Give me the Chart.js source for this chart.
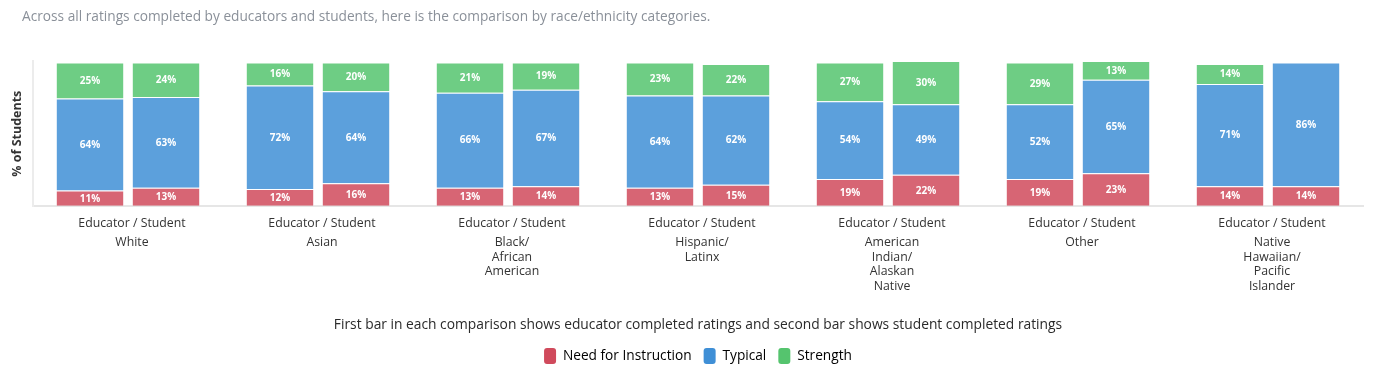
<!DOCTYPE html>
<html>
<head>
<meta charset="utf-8">
<title>Ratings by race/ethnicity</title>
<script src="https://cdn.jsdelivr.net/npm/chart.js@4.4.1/dist/chart.umd.min.js"></script>
<style>
  html, body { margin: 0; padding: 0; background: #fff; }
  #wrap { position: relative; width: 1379px; height: 384px; }
  #intro {
    position: absolute; left: 22px; top: 6px;
    font: 13.7px "Open Sans", sans-serif; color: #8a9099;
  }
  canvas { position: absolute; left: 0; top: 0; }
</style>
</head>
<body>
<div id="wrap">
  <canvas id="ratingsChart" width="1379" height="384"></canvas>
  <div id="intro">Across all ratings completed by educators and students, here is the comparison by race/ethnicity categories.</div>
</div>
<script>
// chart data
const CATEGORIES = [
    ["White"],
    ["Asian"],
    ["Black/", "African", "American"],
    ["Hispanic/", "Latinx"],
    ["American", "Indian/", "Alaskan", "Native"],
    ["Other"],
    ["Native", "Hawaiian/", "Pacific", "Islander"]
];
const PAIR_LABEL = "Educator / Student";

const EDUCATOR_NEED     = [11, 12, 13, 13, 19, 19, 14];
const EDUCATOR_TYPICAL  = [64, 72, 66, 64, 54, 52, 71];
const EDUCATOR_STRENGTH = [25, 16, 21, 23, 27, 29, 14];

const STUDENT_NEED      = [13, 16, 14, 15, 22, 23, 14];
const STUDENT_TYPICAL   = [63, 64, 67, 62, 49, 65, 86];
const STUDENT_STRENGTH  = [24, 20, 19, 22, 30, 13, 0];

const SERIES_NAMES = ["Need for Instruction", "Typical", "Strength"];
const FOOTNOTE = "First bar in each comparison shows educator completed ratings and second bar shows student completed ratings";

// solid colours (legend) and the lighter bar fills
const COLOURS = ["#d04a5c", "#3f8fd6", "#55c46e"];
const FILLS   = ["rgba(208,74,92,0.85)", "rgba(63,143,214,0.85)", "rgba(85,196,110,0.85)"];

const FONT = "'Open Sans', Lato, sans-serif";

function makeSet(i, values, stack) {
    return {
        label: SERIES_NAMES[i],
        data: values,
        stack: stack,
        backgroundColor: FILLS[i],
        borderColor: "rgba(255,255,255,0.35)",
        borderWidth: 1
    };
}

// white % text in the middle of each segment
const segmentLabels = {
    id: "segmentLabels",
    afterDatasetsDraw(chart) {
        const ctx = chart.ctx;
        ctx.save();
        ctx.font = "bold 10px " + FONT;
        ctx.fillStyle = "#fff";
        ctx.textAlign = "center";
        ctx.textBaseline = "middle";
        chart.data.datasets.forEach((ds, i) => {
            const meta = chart.getDatasetMeta(i);
            if (meta.hidden) return;
            meta.data.forEach((bar, j) => {
                const v = ds.data[j];
                if (!v) return;
                const p = bar.getProps(["x", "y", "base"], true);
                ctx.fillText(v + "%", p.x, (p.y + p.base) / 2 + 0.5);
            });
        });
        ctx.restore();
    }
};

Chart.defaults.font.family = FONT;
Chart.defaults.color = "#333";

new Chart(document.getElementById("ratingsChart"), {
    type: "bar",
    data: {
        labels: CATEGORIES.map(() => PAIR_LABEL),
        datasets: [
            makeSet(0, EDUCATOR_NEED, "educator"),
            makeSet(1, EDUCATOR_TYPICAL, "educator"),
            makeSet(2, EDUCATOR_STRENGTH, "educator"),
            makeSet(0, STUDENT_NEED, "student"),
            makeSet(1, STUDENT_TYPICAL, "student"),
            makeSet(2, STUDENT_STRENGTH, "student")
        ]
    },
    options: {
        responsive: false,
        animation: false,
        layout: { padding: { top: 61, left: 6, right: 16, bottom: 10 } },
        scales: {
            x: {
                stacked: true,
                grid: { display: false, drawTicks: false },
                border: { color: "#e6e6e6", width: 2 },
                ticks: { padding: 9.6, labelOffset: 4, font: { size: 12.3 }, color: "#333", maxRotation: 0 },
                // fit() counts the padding twice; keep this row tight
                afterFit: (scale) => { scale.height = 24; }
            },
            groups: {
                type: "category",
                position: "bottom",
                labels: CATEGORIES,
                offset: true,
                grid: { display: false, drawTicks: false },
                border: { display: false },
                ticks: { padding: 4.6, labelOffset: 4, font: { size: 12.3, lineHeight: 1.195 }, color: "#333", maxRotation: 0 }
            },
            y: {
                stacked: true,
                min: 0,
                max: 101,
                ticks: { display: false },
                grid: { color: "transparent", drawTicks: false },
                border: { color: "#ececec", width: 2 },
                title: {
                    display: true,
                    text: "% of Students",
                    font: { size: 12.5, weight: "bold" },
                    color: "#333",
                    padding: { top: 4, bottom: 8 }
                }
            }
        },
        plugins: {
            title: {
                display: true,
                text: FOOTNOTE,
                position: "bottom",
                fullSize: false,
                weight: 500,
                font: { size: 13.8, weight: "normal" },
                color: "#2a2a2a",
                padding: { top: 18.6, bottom: 2.5 }
            },
            legend: {
                position: "bottom",
                fullSize: false,
                labels: {
                    boxWidth: 12,
                    boxHeight: 16,
                    useBorderRadius: true,
                    borderRadius: 3,
                    padding: 12,
                    color: "#2a2a2a",
                    font: { size: 13.7 },
                    filter: (item) => item.datasetIndex < 3,
                    generateLabels: (chart) => SERIES_NAMES.map((name, i) => ({
                        text: name,
                        fillStyle: COLOURS[i],
                        strokeStyle: COLOURS[i],
                        lineWidth: 0,
                        hidden: false,
                        datasetIndex: i,
                        borderRadius: 3
                    }))
                }
            },
            tooltip: {
                callbacks: {
                    label: (item) => `  ${item.dataset.label}: ${item.parsed.y}%`
                }
            }
        }
    },
    plugins: [segmentLabels]
});
</script>
</body>
</html>
